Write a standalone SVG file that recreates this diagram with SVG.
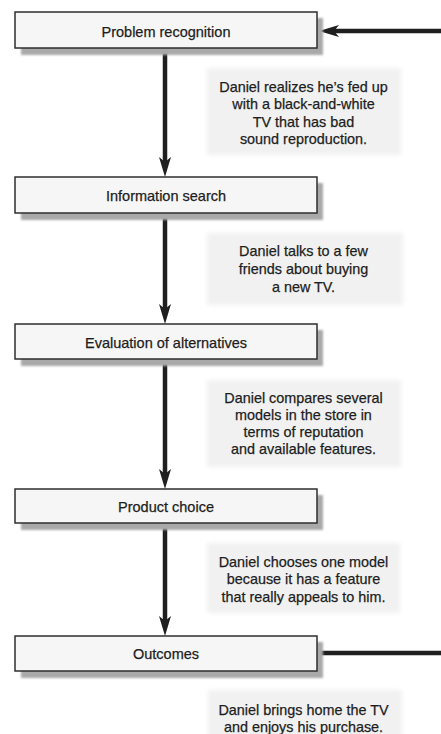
<svg xmlns="http://www.w3.org/2000/svg" width="441" height="734" viewBox="0 0 441 734">
  <style>
    .box { fill: #f6f6f6; stroke: #2e2e2e; stroke-width: 1.5; }
    .shadow { fill: #a9a9a9; filter: url(#soft); }
    .note { fill: #f1f1f1; filter: url(#haze); }
    .title { font-family: "Liberation Sans", Arial, sans-serif; font-size: 14.5px; fill: #1e1e1e; stroke: #1e1e1e; stroke-width: 0.25; text-anchor: middle; }
    .desc { font-family: "Liberation Sans", Arial, sans-serif; font-size: 14.4px; fill: #1e1e1e; stroke: #1e1e1e; stroke-width: 0.25; text-anchor: middle; }
    .flow { stroke: #1f1f1f; stroke-width: 4.5; fill: none; }
  </style>
  <defs>
    <filter id="soft" x="-5%" y="-30%" width="110%" height="160%">
      <feGaussianBlur stdDeviation="0.9"/>
    </filter>
    <filter id="haze" x="-5%" y="-10%" width="110%" height="120%">
      <feGaussianBlur stdDeviation="2"/>
    </filter>
    <marker id="head" viewBox="0 0 20 12" refX="5" refY="6" markerWidth="20" markerHeight="12" markerUnits="userSpaceOnUse" orient="auto">
      <path d="M0,0 L20,6 L0,12 L5,6 z" fill="#1f1f1f"/>
    </marker>
  </defs>

  <rect width="441" height="734" fill="#ffffff"/>

  <!-- note panels -->
  <g id="notes">
    <rect class="note" x="207" y="68" width="194" height="87"/>
    <rect class="note" x="207" y="233" width="196" height="72"/>
    <rect class="note" x="207" y="380" width="194" height="87"/>
    <rect class="note" x="207" y="543" width="193" height="70"/>
    <rect class="note" x="208" y="690" width="194" height="50"/>
  </g>

  <!-- connectors -->
  <g id="connectors">
    <line class="flow" x1="441" y1="31" x2="334" y2="31" marker-end="url(#head)"/>
    <line class="flow" x1="165" y1="48" x2="165" y2="162" marker-end="url(#head)"/>
    <line class="flow" x1="165" y1="213" x2="165" y2="309" marker-end="url(#head)"/>
    <line class="flow" x1="165" y1="359" x2="165" y2="474" marker-end="url(#head)"/>
    <line class="flow" x1="165" y1="523" x2="165" y2="621" marker-end="url(#head)"/>
    <line class="flow" x1="317" y1="653" x2="441" y2="653"/>
  </g>

  <g id="problem-recognition">
    <rect class="shadow" x="21" y="18" width="302" height="37"/>
    <rect class="box" x="15" y="12" width="302" height="36"/>
    <text class="title" x="166" y="36.5">Problem recognition</text>
  </g>

  <g id="information-search">
    <rect class="shadow" x="21" y="183" width="302" height="37"/>
    <rect class="box" x="15" y="177" width="302" height="36"/>
    <text class="title" x="166" y="201">Information search</text>
  </g>

  <g id="evaluation-of-alternatives">
    <rect class="shadow" x="21" y="330" width="302" height="36"/>
    <rect class="box" x="15" y="324" width="302" height="35"/>
    <text class="title" x="166" y="348">Evaluation of alternatives</text>
  </g>

  <g id="product-choice">
    <rect class="shadow" x="21" y="495" width="302" height="35"/>
    <rect class="box" x="15" y="489" width="302" height="34"/>
    <text class="title" x="166" y="512">Product choice</text>
  </g>

  <g id="outcomes">
    <rect class="shadow" x="21" y="642" width="302" height="36"/>
    <rect class="box" x="15" y="636" width="302" height="35"/>
    <text class="title" x="166" y="659">Outcomes</text>
  </g>

  <g id="note-recognition">
    <text class="desc" x="303.5" y="92">Daniel realizes he’s fed up</text>
    <text class="desc" x="303.5" y="109">with a black-and-white</text>
    <text class="desc" x="303.5" y="127">TV that has bad</text>
    <text class="desc" x="303.5" y="144">sound reproduction.</text>
  </g>

  <g id="note-search">
    <text class="desc" x="303.5" y="256">Daniel talks to a few</text>
    <text class="desc" x="303.5" y="274">friends about buying</text>
    <text class="desc" x="303.5" y="292">a new TV.</text>
  </g>

  <g id="note-evaluation">
    <text class="desc" x="303.5" y="403">Daniel compares several</text>
    <text class="desc" x="303.5" y="420">models in the store in</text>
    <text class="desc" x="303.5" y="437">terms of reputation</text>
    <text class="desc" x="303.5" y="454">and available features.</text>
  </g>

  <g id="note-choice">
    <text class="desc" x="303.5" y="567">Daniel chooses one model</text>
    <text class="desc" x="303.5" y="584">because it has a feature</text>
    <text class="desc" x="303.5" y="602">that really appeals to him.</text>
  </g>

  <g id="note-outcomes">
    <text class="desc" x="303.5" y="715">Daniel brings home the TV</text>
    <text class="desc" x="303.5" y="732">and enjoys his purchase.</text>
  </g>
</svg>
